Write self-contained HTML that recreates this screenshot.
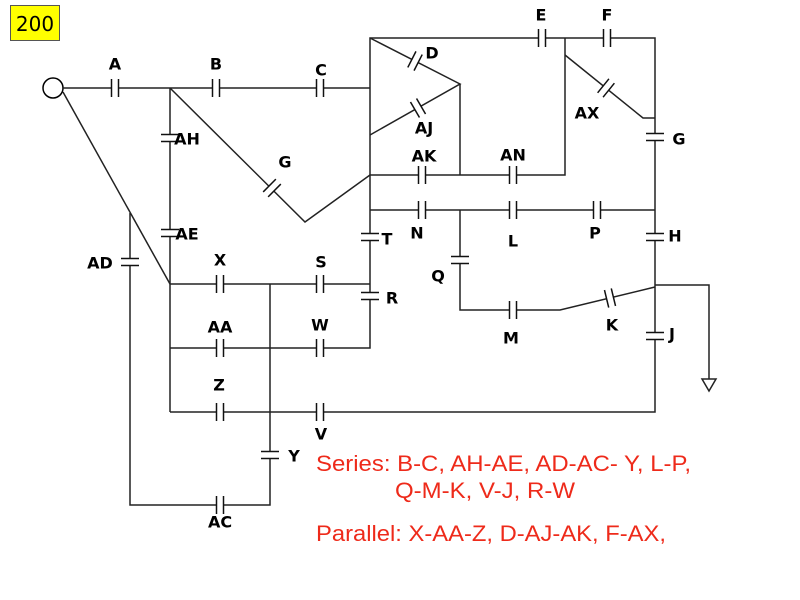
<!DOCTYPE html>
<html><head><meta charset="utf-8"><style>
html,body{margin:0;padding:0;background:#fff;}
svg{display:block;}
.l{font-family:"DejaVu Sans","Liberation Sans",sans-serif;font-weight:bold;font-size:16px;fill:#000;text-anchor:middle;dominant-baseline:central;}
.r{font-family:"Liberation Sans",sans-serif;font-size:22px;fill:#ee2a1a;}
</style></head><body>
<svg width="800" height="600" viewBox="0 0 800 600" xmlns="http://www.w3.org/2000/svg">
<defs>
<g id="c"><rect x="-3.5" y="-10" width="7" height="20" fill="#fff"/><line x1="-3.5" y1="-9" x2="-3.5" y2="9" stroke="#111" stroke-width="1.5"/><line x1="3.5" y1="-9" x2="3.5" y2="9" stroke="#111" stroke-width="1.5"/></g>
</defs>
<rect x="10.5" y="5.5" width="49" height="35" fill="#ffff00" stroke="#555"/>
<text x="35" y="24" font-family="'DejaVu Sans','Liberation Sans',sans-serif" font-size="20" text-anchor="middle" dominant-baseline="central">200</text>
<g stroke="#222" stroke-width="1.5" fill="none">
<circle cx="53" cy="88" r="10" stroke="#000"/>
<polyline points="63,88 370,88"/>
<line x1="63" y1="92" x2="170" y2="284"/>
<line x1="170" y1="88" x2="170" y2="412"/>
<polyline points="170,88 305,222 370,175"/>
<polyline points="130,213 130,505 270,505 270,284"/>
<line x1="170" y1="284" x2="370" y2="284"/>
<polyline points="170,348 370,348 370,38 655,38 655,412 170,412"/>
<polyline points="370,38 460,84 370,135"/>
<line x1="460" y1="84" x2="460" y2="175"/>
<polyline points="370,175 565,175 565,38"/>
<polyline points="565,55 643,118 655,118"/>
<line x1="370" y1="210" x2="655" y2="210"/>
<polyline points="460,210 460,310 560,310 655,287"/>
<polyline points="655,285 709,285 709,379"/>
<polygon points="702,379 716,379 709,391" fill="#fff"/>
</g>
<use href="#c" x="115" y="88"/><use href="#c" x="216" y="88"/><use href="#c" x="320" y="88"/>
<use href="#c" x="542" y="38"/><use href="#c" x="607" y="38"/>
<use href="#c" x="422" y="175"/><use href="#c" x="513" y="175"/>
<use href="#c" x="422" y="210"/><use href="#c" x="513" y="210"/><use href="#c" x="597" y="210"/>
<use href="#c" x="220" y="284"/><use href="#c" x="320" y="284"/>
<use href="#c" x="220" y="348"/><use href="#c" x="320" y="348"/>
<use href="#c" x="220" y="412"/><use href="#c" x="320" y="412"/>
<use href="#c" x="513" y="310"/><use href="#c" x="220" y="505"/>
<use href="#c" transform="translate(170,138) rotate(90)"/>
<use href="#c" transform="translate(170,233) rotate(90)"/>
<use href="#c" transform="translate(130,262) rotate(90)"/>
<use href="#c" transform="translate(270,455) rotate(90)"/>
<use href="#c" transform="translate(370,237) rotate(90)"/>
<use href="#c" transform="translate(370,296) rotate(90)"/>
<use href="#c" transform="translate(460,260) rotate(90)"/>
<use href="#c" transform="translate(655,137) rotate(90)"/>
<use href="#c" transform="translate(655,237) rotate(90)"/>
<use href="#c" transform="translate(655,336) rotate(90)"/>
<use href="#c" transform="translate(272,188) rotate(44.8)"/>
<use href="#c" transform="translate(415,61) rotate(27)"/>
<use href="#c" transform="translate(418,108) rotate(-30)"/>
<use href="#c" transform="translate(606,88) rotate(39)"/>
<use href="#c" transform="translate(610,298) rotate(-13.6)"/>
<g class="l">
<text x="115" y="64">A</text><text x="216" y="64">B</text><text x="321" y="70">C</text>
<text x="187" y="139">AH</text><text x="187" y="234">AE</text><text x="285" y="162">G</text>
<text x="432" y="53">D</text><text x="424" y="128">AJ</text><text x="424" y="156">AK</text><text x="513" y="155">AN</text>
<text x="541" y="15">E</text><text x="607" y="15">F</text><text x="587" y="113">AX</text><text x="679" y="139">G</text>
<text x="387" y="239">T</text><text x="417" y="233">N</text><text x="513" y="241">L</text><text x="595" y="233">P</text><text x="675" y="236">H</text>
<text x="438" y="276">Q</text><text x="392" y="298">R</text><text x="511" y="338">M</text><text x="612" y="325">K</text><text x="672" y="334">J</text>
<text x="220" y="260">X</text><text x="321" y="262">S</text><text x="220" y="327">AA</text><text x="320" y="325">W</text>
<text x="219" y="385">Z</text><text x="321" y="434">V</text><text x="100" y="263">AD</text><text x="294" y="456">Y</text><text x="220" y="522">AC</text>
</g>
<text class="r" x="316" y="471" textLength="375" lengthAdjust="spacingAndGlyphs">Series: B-C, AH-AE, AD-AC- Y, L-P,</text>
<text class="r" x="395" y="498" textLength="180" lengthAdjust="spacingAndGlyphs">Q-M-K, V-J, R-W</text>
<text class="r" x="316" y="541" textLength="350" lengthAdjust="spacingAndGlyphs">Parallel: X-AA-Z, D-AJ-AK, F-AX,</text>
</svg>
</body></html>
